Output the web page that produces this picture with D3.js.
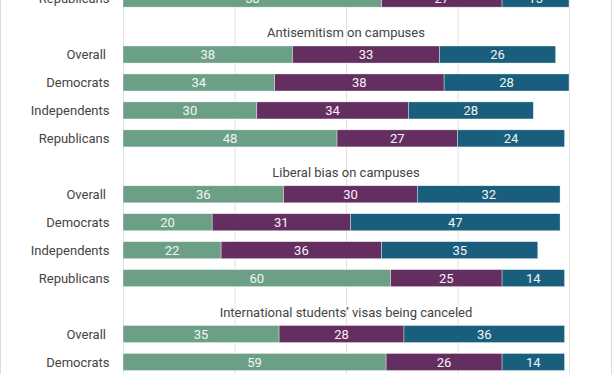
<!DOCTYPE html>
<html>
<head>
<meta charset="utf-8">
<script src="https://cdn.jsdelivr.net/npm/d3@7"></script>
<style>
  body { margin: 0; background: #fff; }
  svg { display: block; font-family: Roboto, "Noto Sans", sans-serif; }
</style>
</head>
<body>
<script>
// section titles (first one is cut off above the visible area)
var sectionTitles = ["", "Antisemitism on campuses", "Liberal bias on campuses", "International students\u2019 visas being canceled"];

// each row: which section it belongs to, its label, and the three stacked values
var rowSection = [0, 1, 1, 1, 1, 2, 2, 2, 2, 3, 3];
var rowLabels = ["Republicans", "Overall", "Democrats", "Independents", "Republicans",
                 "Overall", "Democrats", "Independents", "Republicans",
                 "Overall", "Democrats"];
var seriesA = [58, 38, 34, 30, 48, 36, 20, 22, 60, 35, 59];
var seriesB = [27, 33, 38, 34, 27, 30, 31, 36, 25, 28, 26];
var seriesC = [15, 26, 28, 28, 24, 32, 47, 35, 14, 36, 14];
var xTicks = [0, 25, 50, 75, 100];

var width = 612, height = 374;
var colors = ['#6ba087', '#642f60', '#1a5e7e'];

var svg = d3.select('body').append('svg')
    .attr('width', width)
    .attr('height', height)

// build a flat list of lines: a title line before every section, then its rows
var items = [];
rowLabels.forEach(function (lab, i) {
    if (i == 0 || rowSection[i] != rowSection[i - 1]) {
        items.push({ type: 'title', text: sectionTitles[rowSection[i]] })
    }
    items.push({ type: 'bar', label: lab, values: [seriesA[i], seriesB[i], seriesC[i]] })
});
items.forEach((d, i) => d.idx = i);

var xScale = d3.scaleLinear()
    .domain([0, 100])
    .range([123, 569]);

var yScale = d3.scaleBand()
    .domain(items.map(d => d.idx))
    .range([-43.3, 375.95])
    .paddingInner(0.39)
    .paddingOuter(0.195);

var yMid = d => yScale(d.idx) + yScale.bandwidth() / 2;

// frame edges
svg.selectAll('.frame').data([0.5, width - 0.5]).enter()
    .append('line')
    .attr('x1', d => d).attr('x2', d => d)
    .attr('y1', 0).attr('y2', height)
    .attr('stroke', '#dcdcdc')

// gridlines
var xAxisG = svg.append('g')
    .call(d3.axisBottom(xScale).tickValues(xTicks).tickSize(height).tickFormat(''))
    .call(g => g.select('.domain').remove())
xAxisG.selectAll('.tick line')
    .attr('stroke', '#e2e2e2')

var bars = items.filter(d => d.type == 'bar');

// stacked segments
bars.forEach(function (d) {
    var start = 0;
    d.segs = d.values.map(function (v, k) {
        var s = { row: d, k: k, v: v, x0: start, x1: start + v };
        start += v;
        return s;
    });
});
var segs = [].concat(...bars.map(d => d.segs));

svg.selectAll('rect.seg').data(segs).enter()
    .append('rect')
    .attr('class', 'seg')
    .attr('x', d => xScale(d.x0))
    .attr('y', d => yScale(d.row.idx))
    .attr('width', d => xScale(d.x1) - xScale(d.x0))
    .attr('height', yScale.bandwidth())
    .attr('fill', d => colors[d.k])
    .attr('stroke', 'rgba(255,255,255,0.6)')
    .attr('stroke-width', 0.6)

// value labels
svg.selectAll('text.val').data(segs).enter()
    .append('text')
    .attr('class', 'val')
    .attr('x', d => (xScale(d.x0) + xScale(d.x1)) / 2)
    .attr('y', d => yMid(d.row))
    .attr('dy', '0.35em')
    .attr('text-anchor', 'middle')
    .attr('font-size', 13)
    .attr('fill', '#f4f4f4')
    .text(d => d.v)

// row labels
svg.selectAll('text.lab').data(bars).enter()
    .append('text')
    .attr('class', 'lab')
    .attr('x', d => d.label == 'Overall' ? 106 : 109.5)
    .attr('y', d => yMid(d))
    .attr('dy', '0.35em')
    .attr('text-anchor', 'end')
    .attr('font-size', 13)
    .attr('fill', '#444')
    .text(d => d.label)

// section titles
svg.selectAll('text.title').data(items.filter(d => d.type == 'title' && d.text)).enter()
    .append('text')
    .attr('class', 'title')
    .attr('x', xScale(50))
    .attr('y', d => yMid(d) + 10.5)
    .attr('text-anchor', 'middle')
    .attr('font-size', 13)
    .attr('fill', '#444')
    .text(d => d.text)
</script>
</body>
</html>
